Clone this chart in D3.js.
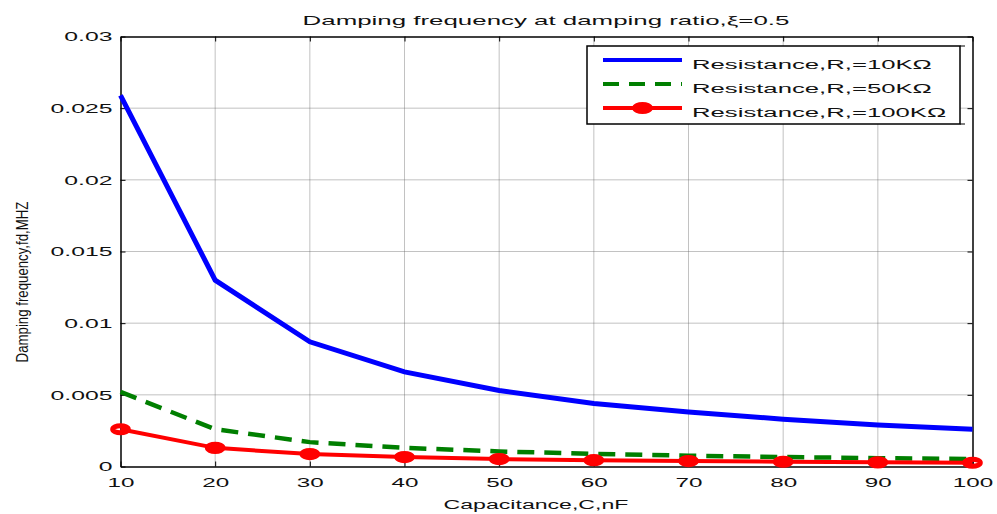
<!DOCTYPE html>
<html lang="en">
<head>
<meta charset="utf-8">
<title>Damping frequency</title>
<script src="https://cdn.jsdelivr.net/npm/d3@7"></script>
<style>
  body { margin: 0; background: #fff; font-family: 'Liberation Sans', Arial, sans-serif; }
  svg text { fill: #111; }
</style>
</head>
<body>
<div id="chart"></div>
<script>

/* Data */
var capacitance = [10, 20, 30, 40, 50, 60, 70, 80, 90, 100];
var fd10k  = [0.0259, 0.0130, 0.0087, 0.0066, 0.0053, 0.0044, 0.0038, 0.0033, 0.0029, 0.0026];
var fd50k  = [0.0052, 0.0026, 0.0017, 0.0013, 0.00105, 0.00088, 0.00075, 0.00066, 0.00058, 0.00052];
var fd100k = [0.0026, 0.0013, 0.00087, 0.00066, 0.00052, 0.00044, 0.00038, 0.00033, 0.00029, 0.00026];
var xTicks = [10, 20, 30, 40, 50, 60, 70, 80, 90, 100];
var yTicks = [0, 0.005, 0.01, 0.015, 0.02, 0.025, 0.03];
var yTickLabels = ['0', '0.005', '0.01', '0.015', '0.02', '0.025', '0.03'];
var legendLabels = ['Resistance,R,=10K\u03A9', 'Resistance,R,=50K\u03A9', 'Resistance,R,=100K\u03A9'];

var width = 997, height = 514;
var margin = { left: 120.5, right: 24.5, top: 36.5, bottom: 47.5 };

var svg = d3.select('#chart').append('svg')
    .attr('width', width)
    .attr('height', height);

var x = d3.scaleLinear().domain([10, 100]).range([margin.left, width - margin.right]);
var y = d3.scaleLinear().domain([0, 0.03]).range([height - margin.bottom, margin.top]);

// The reference text is stretched sideways: scale a group of texts so that
// the one showing refText ends up targetWidth pixels wide.
function stretchTo(sel, refText, targetWidth) {
  var len = 0;
  sel.each(function() { if (this.textContent === refText) len = this.getComputedTextLength(); });
  if (!len) return;
  var sx = targetWidth / len;
  sel.each(function() {
    var t = d3.select(this);
    var x0 = +t.attr('x') || 0;
    t.attr('x', x0 / sx).attr('transform', 'scale(' + sx + ',1)');
  });
}

// Grid
svg.append('g')
  .selectAll('line')
  .data(xTicks.slice(1, -1))
  .join('line')
    .attr('x1', d => x(d)).attr('x2', d => x(d))
    .attr('y1', y(0)).attr('y2', y(0.03))
    .attr('stroke', '#666').attr('stroke-width', 0.8).attr('stroke-dasharray', '1,1');

svg.append('g')
  .selectAll('line')
  .data(yTicks.slice(1, -1))
  .join('line')
    .attr('x1', x(10)).attr('x2', x(100))
    .attr('y1', d => y(d)).attr('y2', d => y(d))
    .attr('stroke', '#666').attr('stroke-width', 0.8).attr('stroke-dasharray', '1,1');

// Axes (inner ticks, MATLAB style)
var xAxis = svg.append('g')
    .attr('transform', 'translate(0,' + y(0) + ')')
    .call(d3.axisBottom(x).tickValues(xTicks).tickSizeInner(-5).tickSizeOuter(0).tickPadding(11));

var xTop = svg.append('g')
    .attr('transform', 'translate(0,' + y(0.03) + ')')
    .call(d3.axisTop(x).tickValues(xTicks).tickSizeInner(-5).tickSizeOuter(0).tickFormat(''));

var yAxis = svg.append('g')
    .attr('transform', 'translate(' + x(10) + ',0)')
    .call(d3.axisLeft(y).tickValues(yTicks).tickSizeInner(-5).tickSizeOuter(0).tickPadding(8)
      .tickFormat((d, i) => yTickLabels[i]));

var yRight = svg.append('g')
    .attr('transform', 'translate(' + x(100) + ',0)')
    .call(d3.axisRight(y).tickValues(yTicks).tickSizeInner(-5).tickSizeOuter(0).tickFormat(''));

[xAxis, xTop, yAxis, yRight].forEach(function(g) {
  g.select('.domain').attr('stroke', '#000').attr('stroke-width', 1.5);
  g.selectAll('.tick line').attr('stroke', '#000').attr('stroke-width', 1);
  g.selectAll('.tick text').attr('font-size', 13).attr('font-family', "'Liberation Sans', Arial, sans-serif")
    .attr('fill', '#111');
});
stretchTo(xAxis.selectAll('.tick text'), '80', 27);
stretchTo(yAxis.selectAll('.tick text'), '0.025', 62);

// Lines
var line = d3.line()
    .x((d, i) => x(capacitance[i]))
    .y(d => y(d));

svg.append('path').datum(fd10k)
    .attr('d', line).attr('fill', 'none')
    .attr('stroke', '#0000ff').attr('stroke-width', 5);

svg.append('path').datum(fd50k)
    .attr('d', line).attr('fill', 'none')
    .attr('stroke', '#007f00').attr('stroke-width', 4.5).attr('stroke-dasharray', '17,10');

svg.append('path').datum(fd100k)
    .attr('d', line).attr('fill', 'none')
    .attr('stroke', '#ff0000').attr('stroke-width', 4);

svg.append('g')
  .selectAll('ellipse')
  .data(fd100k)
  .join('ellipse')
    .attr('cx', (d, i) => x(capacitance[i]))
    .attr('cy', d => y(d))
    .attr('rx', 7.8).attr('ry', 3.6)
    .attr('fill', 'none').attr('stroke', '#ff0000').attr('stroke-width', 5);

// Legend
var lg = svg.append('g').attr('transform', 'translate(587,46)');
lg.append('rect').attr('width', 373).attr('height', 78)
    .attr('fill', '#fff').attr('stroke', '#000').attr('stroke-width', 1.5);
lg.append('line').attr('x1', 373).attr('x2', 378).attr('y1', 0).attr('y2', 0).attr('stroke', '#000');
lg.append('line').attr('x1', 373).attr('x2', 378).attr('y1', 78).attr('y2', 78).attr('stroke', '#000');

var legendStyles = [
  { color: '#0000ff', dash: null, marker: false },
  { color: '#007f00', dash: '16,10', marker: false },
  { color: '#ff0000', dash: null, marker: true }
];

legendLabels.forEach(function(label, i) {
  var yy = 14 + i * 24;
  var s = legendStyles[i];
  lg.append('line')
      .attr('x1', 16).attr('x2', 95).attr('y1', yy).attr('y2', yy)
      .attr('stroke', s.color).attr('stroke-width', 4)
      .attr('stroke-dasharray', s.dash);
  if (s.marker) {
    lg.append('ellipse').attr('cx', 55.5).attr('cy', yy).attr('rx', 7.8).attr('ry', 3.6)
      .attr('fill', 'none').attr('stroke', '#ff0000').attr('stroke-width', 5);
  }
  lg.append('text')
      .attr('class', 'legend-text')
      .attr('x', 105).attr('y', yy + 9.5)
      .attr('font-size', 13.5)
      .text(label);
});
stretchTo(lg.selectAll('.legend-text'), legendLabels[0], 240);

// Title and labels
var title = svg.append('text')
    .attr('x', 546).attr('y', 25.5)
    .attr('text-anchor', 'middle')
    .attr('font-size', 13)
    .text('Damping frequency at damping ratio,\u03BE=0.5');
stretchTo(title, title.text(), 487);

var xLabel = svg.append('text')
    .attr('x', 536).attr('y', 509)
    .attr('text-anchor', 'middle')
    .attr('font-size', 13.5)
    .text('Capacitance,C,nF');
stretchTo(xLabel, xLabel.text(), 185);

var yLabel = svg.append('text')
    .attr('text-anchor', 'middle')
    .attr('font-size', 16)
    .text('Damping frequency,fd,MHZ');
var yLen = yLabel.node().getComputedTextLength();
yLabel.attr('transform', 'translate(28,282) rotate(-90) scale(' + (161 / yLen) + ',1)');

</script>
</body>
</html>
